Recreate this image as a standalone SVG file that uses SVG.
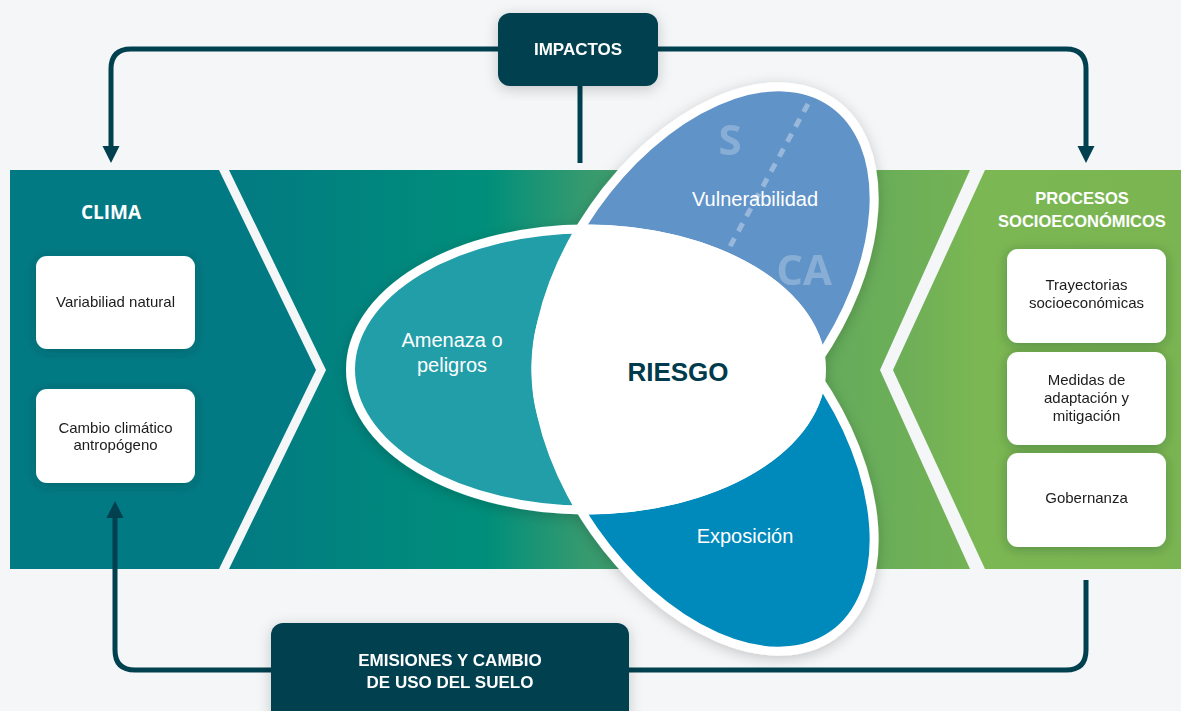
<svg xmlns="http://www.w3.org/2000/svg" width="1181" height="711" viewBox="0 0 1181 711">
<style>
.conn{fill:none;stroke:#00404f;stroke-width:5;stroke-linejoin:round}
.dark{fill:#004050}
.wbox{fill:#ffffff}
.bt{font-family:"Liberation Sans",Arial,sans-serif;font-size:15px;fill:#1c1c1c;text-anchor:middle}
.hd{font-family:"Liberation Sans",Arial,sans-serif;font-weight:700;fill:#ffffff;text-anchor:middle}
.pl{font-family:"Liberation Sans",Arial,sans-serif;font-size:20px;fill:#ffffff;text-anchor:middle}
.ghost{font-family:"Open Sans","Liberation Sans",Arial,sans-serif;font-weight:700;font-size:42px;fill:#ffffff;fill-opacity:0.25;text-anchor:middle}
.petal{stroke:#ffffff;stroke-width:9}
</style>
<defs>
<linearGradient id="gMid" gradientUnits="userSpaceOnUse" x1="229" y1="0" x2="970" y2="0">
<stop offset="0" stop-color="#027a82"/>
<stop offset="0.35" stop-color="#008f7b"/>
<stop offset="0.48" stop-color="#369a6f"/>
<stop offset="0.75" stop-color="#5fa95d"/>
<stop offset="1" stop-color="#74b255"/>
</linearGradient>
<linearGradient id="gRight" gradientUnits="userSpaceOnUse" x1="893" y1="0" x2="1181" y2="0">
<stop offset="0" stop-color="#6cad58"/>
<stop offset="0.3" stop-color="#7bb753"/>
<stop offset="1" stop-color="#7ab552"/>
</linearGradient>
<filter id="sh" x="-20%" y="-20%" width="140%" height="140%">
<feDropShadow dx="0" dy="3" stdDeviation="7" flood-color="#000000" flood-opacity="0.2"/>
</filter>
<filter id="shBox" x="-30%" y="-30%" width="160%" height="160%">
<feDropShadow dx="0" dy="2" stdDeviation="6" flood-color="#002a30" flood-opacity="0.3"/>
</filter>
<clipPath id="clipA"><ellipse cx="586" cy="369.5" rx="240" ry="145"/></clipPath>
<marker id="arr" markerUnits="userSpaceOnUse" markerWidth="20" markerHeight="20" viewBox="0 0 20 20" refX="2" refY="10" orient="auto">
<path d="M0,1.5 L17,10 L0,18.5 z" fill="#00404f"/>
</marker>
</defs>
<rect x="0" y="0" width="1181" height="711" fill="#f4f6f8"/>

<g id="panels">
<polygon id="panel-clima" points="10,170 219,170 316,370 219,569 10,569" fill="#027a84"/>
<polygon id="panel-mid" points="229,170 970,170 880,370 970,569 229,569 326,370" fill="url(#gMid)"/>
<polygon id="panel-procesos" points="985,170 1181,170 1181,569 985,569 893,370" fill="url(#gRight)"/>
</g>

<g id="clima">
<text class="hd" x="111" y="219" font-size="19" style="font-family:'Open Sans','Liberation Sans',Arial,sans-serif">CLIMA</text>
</g>
<g id="node-variabilidad" filter="url(#shBox)">
<rect class="wbox" x="36" y="256" width="159" height="93" rx="11"/>
<text class="bt" x="115.5" y="307">Variabiliad natural</text>
</g>
<g id="node-cambio" filter="url(#shBox)">
<rect class="wbox" x="36" y="389" width="159" height="94" rx="11"/>
<text class="bt" x="115.5" y="433">Cambio climático</text>
<text class="bt" x="115.5" y="450">antropógeno</text>
</g>

<g id="procesos">
<text class="hd" x="1082" y="204" font-size="16.5">PROCESOS</text>
<text class="hd" x="1082" y="227" font-size="16.5">SOCIOECONÓMICOS</text>
</g>
<g id="node-trayectorias" filter="url(#shBox)">
<rect class="wbox" x="1007" y="249" width="159" height="94" rx="11"/>
<text class="bt" x="1086.5" y="290">Trayectorias</text>
<text class="bt" x="1086.5" y="308">socioeconómicas</text>
</g>
<g id="node-medidas" filter="url(#shBox)">
<rect class="wbox" x="1007" y="352" width="159" height="93" rx="11"/>
<text class="bt" x="1086.5" y="385">Medidas de</text>
<text class="bt" x="1086.5" y="403">adaptación y</text>
<text class="bt" x="1086.5" y="421">mitigación</text>
</g>
<g id="node-gobernanza" filter="url(#shBox)">
<rect class="wbox" x="1007" y="453" width="159" height="94" rx="11"/>
<text class="bt" x="1086.5" y="503">Gobernanza</text>
</g>

<g id="connectors">
<path class="conn" d="M580,86 V163"/>
<path class="conn" d="M498,49 H131 Q111,49 111,69 V148" marker-end="url(#arr)"/>
<path class="conn" d="M658,49 H1066 Q1086,49 1086,69 V148" marker-end="url(#arr)"/>
<path class="conn" d="M1086,580 V650 Q1086,670 1066,670 H135 Q115,670 115,650 V516" marker-end="url(#arr)"/>
</g>

<g id="petals" filter="url(#sh)">
<g id="node-vulnerabilidad">
<ellipse class="petal" cx="0" cy="0" rx="135.5" ry="222.5" fill="#6093c8" transform="translate(705,285) rotate(35)"/>
<line x1="808" y1="104" x2="716" y2="272" stroke="#ffffff" stroke-opacity="0.35" stroke-width="5" stroke-dasharray="9 8"/>
<text class="ghost" x="730" y="155">S</text>
<text class="ghost" x="804" y="285">CA</text>
</g>
<g id="node-exposicion">
<ellipse class="petal" cx="0" cy="0" rx="135.5" ry="222.5" fill="#0289bb" transform="translate(705,453) rotate(-35)"/>
</g>
<g id="node-amenaza">
<ellipse class="petal" cx="586" cy="369.5" rx="235.5" ry="140.5" fill="#219ea9"/>
</g>
<g id="node-riesgo" clip-path="url(#clipA)">
<ellipse cx="0" cy="0" rx="140" ry="227" fill="#ffffff" transform="translate(705,285) rotate(35)"/>
<ellipse cx="0" cy="0" rx="140" ry="227" fill="#ffffff" transform="translate(705,453) rotate(-35)"/>
</g>
</g>
<g id="petal-labels">
<text class="pl" x="755" y="206">Vulnerabilidad</text>
<text class="pl" x="452" y="347">Amenaza o</text>
<text class="pl" x="452" y="372">peligros</text>
<text class="pl" x="745" y="543">Exposición</text>
<text x="678" y="381" text-anchor="middle" style="font-family:'Liberation Sans',Arial,sans-serif;font-weight:700;font-size:26px;fill:#003b4c">RIESGO</text>
</g>

<g id="node-impactos" filter="url(#sh)">
<rect class="dark" x="498" y="13" width="160" height="73" rx="12"/>
<text class="hd" x="578" y="55" font-size="17">IMPACTOS</text>
</g>
<g id="node-emisiones" filter="url(#sh)">
<rect class="dark" x="271" y="623" width="358" height="100" rx="12"/>
<text class="hd" x="450" y="666" font-size="17">EMISIONES Y CAMBIO</text>
<text class="hd" x="450" y="688" font-size="17">DE USO DEL SUELO</text>
</g>
</svg>
